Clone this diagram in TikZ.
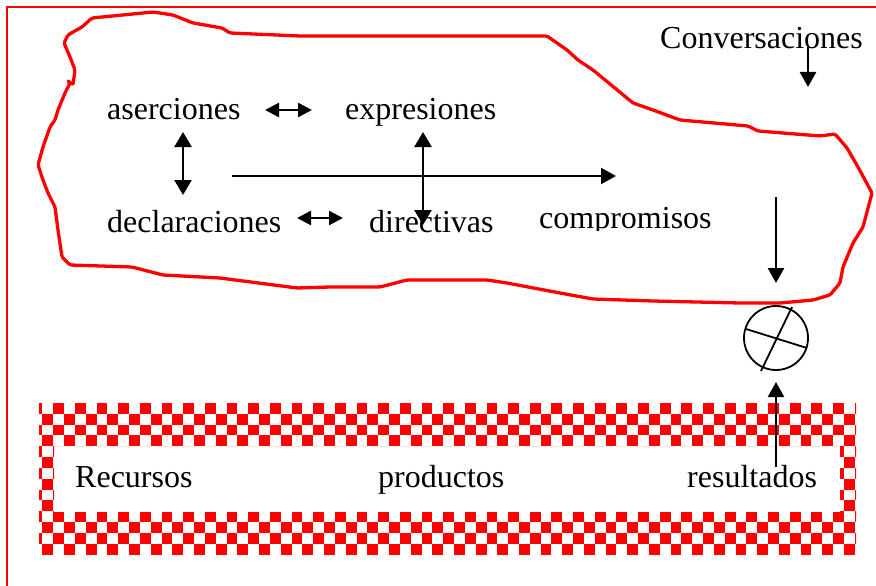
\documentclass[tikz,border=0pt]{standalone}
\usepackage{fontspec}
\setmainfont{Liberation Serif}
\usetikzlibrary{arrows.meta}
\tikzset{
  lbl/.style={anchor=base west, inner sep=0pt, font=\fontsize{32}{38}\selectfont},
  arr/.style={line width=2.4pt, -{Triangle[length=15pt,width=16pt]}},
  darr/.style={line width=2.4pt, {Triangle[length=14pt,width=14pt]}-{Triangle[length=14pt,width=14pt]}},
  dvarr/.style={line width=2.4pt, {Triangle[length=15pt,width=17pt]}-{Triangle[length=15pt,width=17pt]}},
  blob/.style={draw=red, line width=3.3pt, line join=round, rounded corners=1.5pt},
  frame/.style={draw=red, line width=1.5pt},
  chk/.style={fill=red}
}
\begin{document}
\begin{tikzpicture}[x=1pt,y=-1pt]
\useasboundingbox (0,0) rectangle (876,586);
% outer frame
\draw[frame] (7,600) -- (7,7) -- (890,7);
% cloud
\draw[blob] (92,18) -- (153,12) -- (173,15) -- (193,23) -- (222,28) -- (230,33) -- (300,36) -- (547,36) -- (567,50) -- (578,60) -- (593,70) -- (633,103) -- (653,110) -- (680,120) -- (748,126) -- (758,131) -- (820,136) -- (835,134) -- (847,148) -- (858,167) -- (872,193) -- (863,227) -- (853,243) -- (843,267) -- (840,283) -- (830,295) -- (813,300) -- (780,303) -- (740,303) -- (653,301) -- (593,299) -- (560,293) -- (507,283) -- (487,280) -- (407,280) -- (380,287) -- (330,287) -- (297,288) -- (220,278) -- (163,275) -- (132,267) -- (70,265) -- (62,257) -- (58,230) -- (55,207) -- (48,193) -- (43,180) -- (38,165) -- (43,147) -- (50,127) -- (55,120) -- (58,110) -- (65,93) -- (70,83) -- (67,80) -- (73,85) -- (75,70) -- (70,57) -- (64,43) -- (68,35) -- (73,32) -- (82,27) -- cycle;
% checkered band
\begin{scope}[even odd rule]
\clip (39,403) rectangle (856,555) (54,446) rectangle (840,512);
\foreach \j in {0,...,13}{
  \pgfmathtruncatemacro\st{-2+mod(\j,2)}
  \pgfmathtruncatemacro\nx{\st+2}
  \foreach \i in {\st,\nx,...,74}{
    \fill[chk] ({53.3+\i*10.83},{403+\j*10.83}) rectangle ++(10.83,10.83);
  }
}
\end{scope}
% texts
\node[lbl] (ase) at (107,120) {aserciones};
\node[lbl] (exp) at (345,120) {expresiones};
\node[lbl] (dec) at (107,232) {declaraciones};
\node[lbl] (dir) at (369,232) {directivas};
\begin{scope}
\clip (530,180) rectangle (730,230);
\node[lbl] (com) at (539,228) {compromisos};
\end{scope}
\node[lbl] (con) at (660,49) {Conversaciones};
\node[lbl] (rec) at (75,487) {Recursos};
\node[lbl] (pro) at (378,487) {productos};
\node[lbl] (res) at (687,487) {resultados};
% connector end points
\coordinate (a1) at (265,110);
\coordinate (a2) at (312,110);
\coordinate (b1) at (297,218);
\coordinate (b2) at (343,218);
\coordinate (v1) at (183,132);
\coordinate (v2) at (183,195);
\coordinate (w1) at (423,132);
\coordinate (w2) at (423,225);
\coordinate (h1) at (232,176);
\coordinate (h2) at (616,176);
\coordinate (c1) at (808,47);
\coordinate (c2) at (808,87);
\coordinate (d1) at (776,197);
\coordinate (d2) at (776,283);
\coordinate (u1) at (776,467);
\coordinate (u2) at (776,382);
% summing junction
\node[draw, circle, line width=1.8pt, minimum size=64pt, inner sep=0pt] (sum) at (776,338) {};
\draw[line width=1.8pt] (746,329) -- (807,348);
\draw[line width=1.8pt] (792,307) -- (761,371);
% arrows
\draw[darr] (a1) -- (a2);
\draw[darr] (b1) -- (b2);
\draw[dvarr] (v1) -- (v2);
\draw[dvarr] (w1) -- (w2);
\draw[arr] (h1) -- (h2);
\draw[arr] (c1) -- (c2);
\draw[arr] (d1) -- (d2);
\draw[arr] (u1) -- (u2);
\end{tikzpicture}
\end{document}
